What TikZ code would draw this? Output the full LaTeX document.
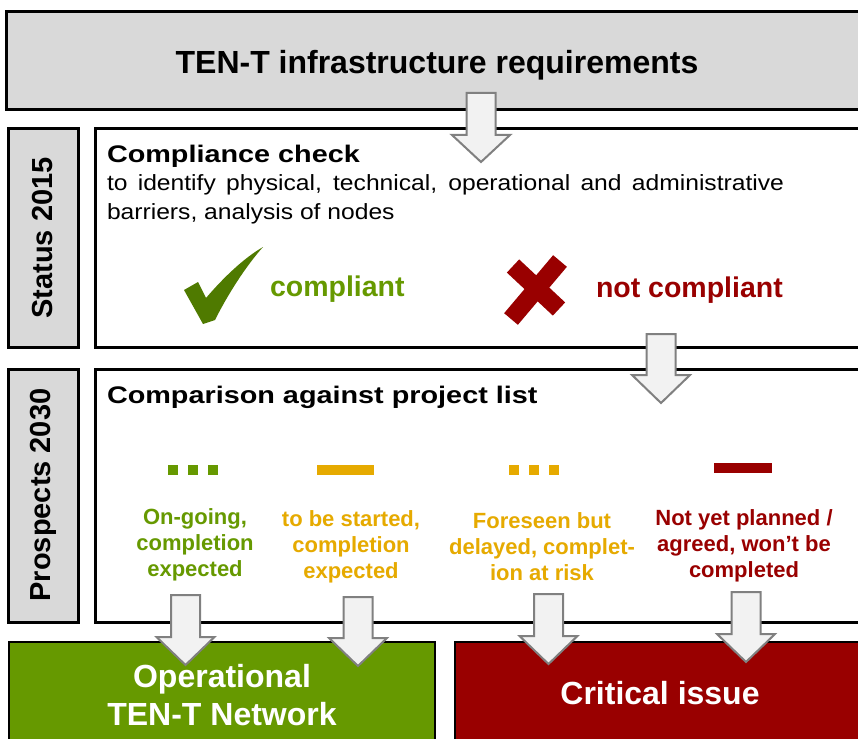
\documentclass[tikz,border=0pt]{standalone}
\usepackage{fontspec}
\setmainfont{Liberation Sans}
\newfontfamily\widefont[FakeStretch=1.2]{Liberation Sans}
\newfontfamily\bodyfont[FakeStretch=1.12]{Liberation Sans}
\usetikzlibrary{positioning}
\definecolor{cd9d9d9}{RGB}{217,217,217}
\definecolor{cf2f2f2}{RGB}{242,242,242}
\definecolor{c808080}{RGB}{128,128,128}
\definecolor{c669900}{RGB}{102,153,0}
\definecolor{c4f7a00}{RGB}{79,122,0}
\definecolor{c990000}{RGB}{153,0,0}
\definecolor{ce6aa00}{RGB}{230,170,0}

\begin{document}
\begin{tikzpicture}[y=1pt,x=1pt,yscale=-1, inner sep=0pt, outer sep=0pt,
  frame/.style={draw=black,line width=3pt},
  blockarrow/.style={fill=cf2f2f2,draw=c808080,line width=2pt,line join=miter},
  heading/.style={anchor=base west,font=\widefont\bfseries\fontsize{24}{28}\selectfont},
  sidelabel/.style={rotate=90,anchor=center,font=\bfseries\fontsize{29}{32}\selectfont},
  legendtext/.style={align=center,font=\bfseries\fontsize{22}{26}\selectfont},
  bigtext/.style={text=white,align=center,font=\bfseries\fontsize{32}{38}\selectfont}]
  \useasboundingbox (0,0) rectangle (858,738);
  \clip (0,0) rectangle (858,738);

  % boxes
  \path[frame,fill=cd9d9d9] (6,12) rectangle (880,110);
  \path[frame,fill=cd9d9d9] (8,129) rectangle (78,347);
  \path[frame,fill=white] (95,129) rectangle (880,347);
  \path[frame,fill=cd9d9d9] (8,369) rectangle (78,622);
  \path[frame,fill=white] (95,369) rectangle (880,622);
  \path[draw=black,line width=1.5pt,fill=c669900] (9,642) rectangle (435,760);
  \path[draw=black,line width=1.5pt,fill=c990000] (455,642) rectangle (880,760);

  % texts
  \path (437,74) node[anchor=base,font=\bfseries\fontsize{32}{38}\selectfont] (textReq)
    {TEN-T infrastructure requirements};
  \path (43,238) node[sidelabel] (textStatus) {Status 2015};
  \path (43,495) node[sidelabel] (textProspects) {Prospects 2030};
  \path (107,162) node[heading] (textCheck) {Compliance check};
  \path (107,175) node[anchor=north west,text width=677,align=justify,
    font=\bodyfont\fontsize{22}{29}\selectfont] (textBarriers)
    {\hyphenpenalty=10000\relax to identify physical, technical, operational and administrative
    barriers, analysis of nodes};
  \path (270,296) node[anchor=base west,text=c669900,font=\bfseries\fontsize{28.5}{32}\selectfont] (textComp)
    {compliant};
  \path (596,297) node[anchor=base west,text=c990000,font=\bfseries\fontsize{28.5}{32}\selectfont] (textNotComp)
    {not compliant};
  \path (107,403) node[heading] (textList) {Comparison against project list};

  % check and cross
  \path[fill=c4f7a00] (184,290) -- (198,282) -- (206,298) .. controls (224,277) and (244,258) ..
    (263,247) .. controls (246,266) and (228,294) .. (215,320) -- (203,324) -- cycle;
  \path[draw=c990000,line width=18pt] (560,261) -- (511,319);
  \path[draw=c990000,line width=18pt] (513,266) -- (559,309);

  % legend
  \path[draw=c669900,line width=10pt,dash pattern=on 10pt off 10pt] (168,470) -- (218,470);
  \path[draw=ce6aa00,line width=10pt] (317,470) -- (374,470);
  \path[draw=ce6aa00,line width=10pt,dash pattern=on 10pt off 10pt] (509,470) -- (560,470);
  \path[draw=c990000,line width=10pt] (714,468) -- (772,468);
  \path (195,545) node[legendtext,text=c669900] (textOngoing)
    {On-going,\\completion\\expected};
  \path (351,547) node[legendtext,text=ce6aa00] (textStarted)
    {to be started,\\completion\\expected};
  \path (542,547) node[legendtext,text=ce6aa00] (textDelayed)
    {Foreseen but\\delayed, complet-\\ion at risk};
  \path (744,546) node[legendtext,text=c990000] (textNotPlanned)
    {Not yet planned /\\agreed, won’t be\\completed};

  % results
  \path (222,695) node[bigtext] (textOperational) {Operational\\TEN-T Network};
  \path (660,693) node[bigtext] (textCritical) {Critical issue};

  % block arrows
  \path[blockarrow] (466.5,93) -- (495.5,93) -- (495.5,135) -- (510,135) -- (481,162)
    -- (452,135) -- (466.5,135) -- cycle;
  \path[blockarrow] (646.5,334) -- (675.5,334) -- (675.5,375) -- (690,375) -- (661,403)
    -- (632,375) -- (646.5,375) -- cycle;
  \path[blockarrow] (171,595) -- (200,595) -- (200,637) -- (214.5,637) -- (185.5,665)
    -- (156.5,637) -- (171,637) -- cycle;
  \path[blockarrow] (343.5,597) -- (372.5,597) -- (372.5,638) -- (387,638) -- (358,666)
    -- (329,638) -- (343.5,638) -- cycle;
  \path[blockarrow] (534,594) -- (563,594) -- (563,636) -- (577.5,636) -- (548.5,664)
    -- (519.5,636) -- (534,636) -- cycle;
  \path[blockarrow] (731.5,592) -- (760.5,592) -- (760.5,634) -- (775,634) -- (746,662)
    -- (717,634) -- (731.5,634) -- cycle;
\end{tikzpicture}
\end{document}
